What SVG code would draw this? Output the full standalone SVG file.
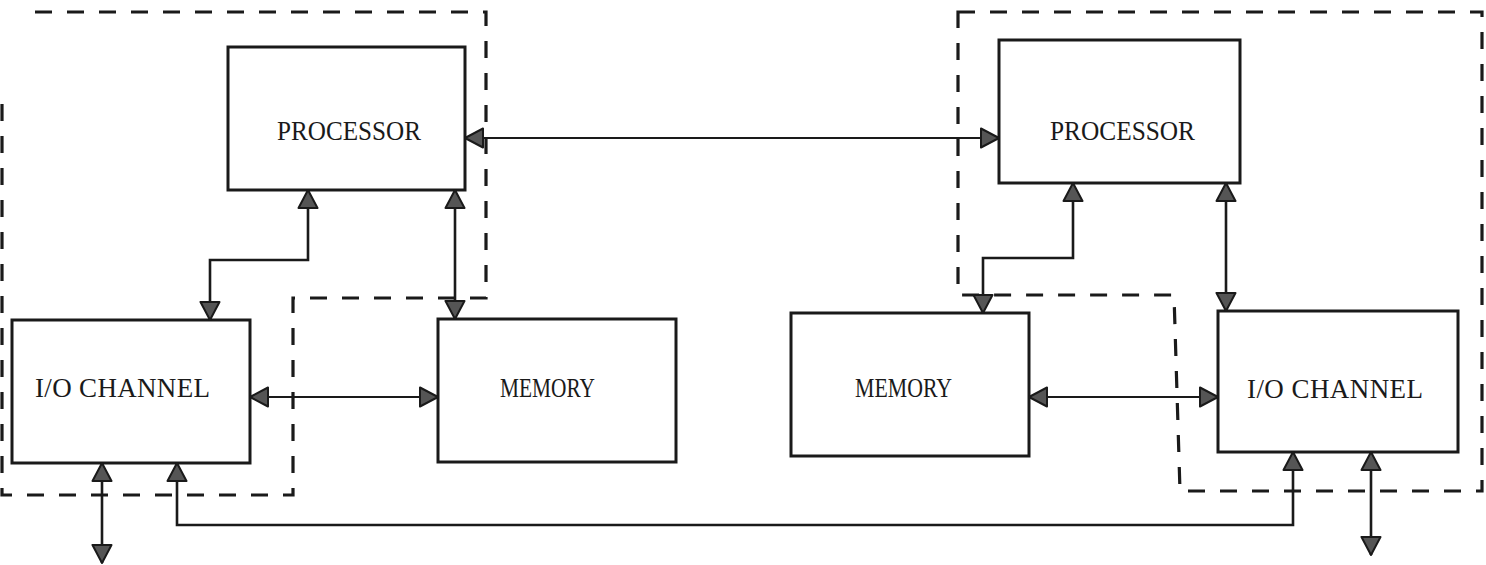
<svg xmlns="http://www.w3.org/2000/svg" width="1486" height="565" viewBox="0 0 1486 565">
<style>
.box{fill:none;stroke:#1a1a1a;stroke-width:3}
.lbl{font-family:"Liberation Serif","DejaVu Serif",serif;font-size:27px;fill:#1a1a1a}
.bound{fill:none;stroke:#1a1a1a;stroke-width:3.2;stroke-dasharray:17 15}
.conn{fill:none;stroke:#1a1a1a;stroke-width:2.6;marker-start:url(#ah);marker-end:url(#ah)}
</style>
<defs>
<marker id="ah" markerUnits="userSpaceOnUse" viewBox="0 0 20 22" refX="19" refY="11" markerWidth="20" markerHeight="22" orient="auto-start-reverse">
<path d="M1,1.5 L19,11 L1,20.5 Z" fill="#555" stroke="#1a1a1a" stroke-width="2" stroke-linejoin="round"/>
</marker>
</defs>
<g id="boundaries">
<path class="bound" d="M35,12 H486 V298 H293 V495 H2 V95"/>
<path class="bound" d="M958,12 H1482 V491 H1180 L1174,295 H958 Z"/>
</g>
<g id="left-processor">
<rect class="box" x="228" y="47" width="237" height="143"/>
<text class="lbl" x="277" y="140" textLength="144" lengthAdjust="spacingAndGlyphs">PROCESSOR</text>
</g>
<g id="left-io">
<rect class="box" x="12" y="320" width="238" height="143"/>
<text class="lbl" x="35" y="397" textLength="175" lengthAdjust="spacing">I/O CHANNEL</text>
</g>
<g id="left-memory">
<rect class="box" x="438" y="319" width="238" height="143"/>
<text class="lbl" x="500" y="397" textLength="95" lengthAdjust="spacingAndGlyphs">MEMORY</text>
</g>
<g id="right-processor">
<rect class="box" x="999" y="40" width="241" height="143"/>
<text class="lbl" x="1050" y="140" textLength="145" lengthAdjust="spacingAndGlyphs">PROCESSOR</text>
</g>
<g id="right-memory">
<rect class="box" x="791" y="313" width="238" height="143"/>
<text class="lbl" x="855" y="397" textLength="97" lengthAdjust="spacingAndGlyphs">MEMORY</text>
</g>
<g id="right-io">
<rect class="box" x="1218" y="311" width="240" height="141"/>
<text class="lbl" x="1247" y="398" textLength="176" lengthAdjust="spacing">I/O CHANNEL</text>
</g>
<g id="connectors">
<path class="conn" style="stroke-width:2" d="M465,138 H999"/>
<path class="conn" d="M308,190 V260 H210 V320"/>
<path class="conn" d="M455,190 V319"/>
<path class="conn" style="stroke-width:2" d="M250,397 H438"/>
<path class="conn" d="M1073,183 V258 H983 V313"/>
<path class="conn" d="M1226,183 V311"/>
<path class="conn" style="stroke-width:2" d="M1029,397 H1218"/>
<path class="conn" d="M177,463 V525 H1293 V452"/>
<path class="conn" d="M102,463 V563"/>
<path class="conn" d="M1371,452 V555"/>
</g>
</svg>
